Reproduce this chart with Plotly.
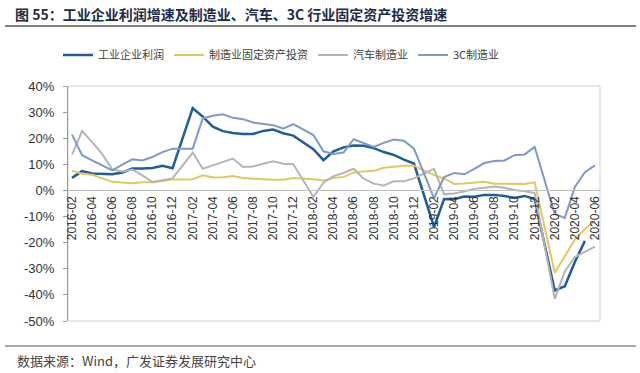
import plotly.graph_objects as go

months = []
for y in range(2016, 2021):
    for m in range(1, 13):
        if (y == 2016 and m < 2) or (y == 2020 and m > 6):
            continue
        months.append(f"{y}-{m:02d}")

tick_labels = months[::2]

profit = [4.8, 7.4, 6.5, 6.4, 6.2, 6.9, 8.4, 8.4, 8.6, 9.4, 8.5,
          None, 31.5, 28.3, 24.4, 22.7, 22.0, 21.6, 21.6, 22.8, 23.3, 21.9, 21.0,
          None, 15.8, 11.6, 15.0, 16.5, 17.2, 17.1, 16.2, 14.7, 13.6, 11.8, 10.3,
          None, -14.0, -3.3, -3.4, -2.3, -2.4, -1.7, -1.7, -2.1, -2.9, -2.1, -3.3,
          None, -38.3, -36.7, -27.4, -19.3, None]

mfg_fai = [7.5, 6.4, 6.0, 4.6, 3.3, 3.0, 2.8, 3.1, 3.1, 3.6, 4.2,
           None, 4.3, 5.8, 5.0, 5.1, 5.5, 4.8, 4.5, 4.2, 4.1, 4.1, 4.8,
           None, 4.3, 3.8, 4.8, 5.2, 6.8, 7.3, 7.5, 8.7, 9.1, 9.5, 9.5,
           None, 5.9, 4.6, 2.5, 2.7, 3.0, 3.3, 2.6, 2.5, 2.6, 2.5, 3.1,
           None, -31.5, -25.2, -18.8, -14.8, -11.7]

auto_fai = [13.7, 22.7, 18.5, 14.0, 8.0, 7.3, 8.0, 5.8, 3.2, 3.8, 4.6,
            None, 14.5, 8.3, 9.6, 10.8, 12.2, 9.0, 9.2, 10.2, 11.2, 10.2, 10.0,
            None, -2.5, 3.0, 5.5, 6.7, 8.3, 4.5, 2.6, 1.9, 3.5, 3.5, 4.6,
            None, 8.3, -1.5, -1.2, -0.4, 0.6, 1.0, 1.5, 1.0, 0.2, -0.3, -1.0,
            None, -41.5, -31.0, -25.5, -23.5, -21.5]

c3_fai = [21.4, 13.5, 11.5, 9.6, 7.7, 9.9, 11.9, 11.5, 12.8, 14.7, 16.0,
          None, 16.0, 27.6, 28.6, 29.2, 27.8, 27.3, 26.0, 25.6, 25.0, 23.7, 25.4,
          None, 21.2, 15.0, 14.0, 14.5, 19.6, 18.0, 16.7, 18.2, 19.5, 19.0, 16.0,
          None, -3.0, 5.1, 6.7, 6.2, 8.3, 10.5, 11.3, 11.5, 13.5, 13.8, 16.7,
          None, -9.0, -10.5, 1.3, 7.0, 9.6]

names = ["工业企业利润", "制造业固定资产投资", "汽车制造业", "3C制造业"]
series = [profit, mfg_fai, auto_fai, c3_fai]
colors = ["#1f5e9c", "#e3c75e", "#b5b5b5", "#7d9acb"]
widths = [2.5, 2, 2, 2]

fig = go.Figure()
for n, s, c, w in zip(names, series, colors, widths):
    fig.add_trace(go.Scatter(x=months, y=s, name=n, mode="lines",
                             connectgaps=True, line=dict(color=c, width=w)))

L, T, R, B = 68, 86, 40, 52
W, H = 640, 373
pw, ph = W - L - R, H - T - B
def px(xp):
    return (xp - L) / pw
def py(yp):
    return (H - B - yp) / ph

fig.update_layout(
    width=W, height=H,
    margin=dict(l=L, r=R, t=T, b=B, autoexpand=False),
    paper_bgcolor="white", plot_bgcolor="white",
    font=dict(family="Liberation Sans, Arial, sans-serif", size=12, color="#333333"),
    showlegend=True,
    legend=dict(orientation="h", x=px(58), y=py(55), xanchor="left", yanchor="middle",
                font=dict(family="Noto Sans CJK SC", size=11, color="#404040"),
                itemwidth=30, bgcolor="rgba(0,0,0,0)"),
    xaxis=dict(type="category", range=[-0.4, 52.5], anchor="free",
               position=50 / 90, showline=True, linecolor="#c0c0c0", linewidth=1,
               tickmode="array", tickvals=tick_labels, ticktext=tick_labels,
               tickangle=-90, ticks="", showgrid=False, zeroline=False,
               automargin=False,
               tickfont=dict(family="Liberation Sans, Arial", size=12, color="#333333")),
    yaxis=dict(range=[-50, 40], tickvals=list(range(-50, 41, 10)),
               ticktext=[f"{v}%" for v in range(-50, 41, 10)],
               showline=True, linecolor="#999999", linewidth=1,
               ticks="outside", ticklen=4, tickcolor="#999999",
               showgrid=False, zeroline=False, ticklabelstandoff=6,
               automargin=False,
               tickfont=dict(family="Liberation Sans, Arial", size=13, color="#333333")),
)

# plot frame
fig.add_shape(type="rect", xref="paper", yref="paper", x0=0, x1=1, y0=0, y1=1,
              line=dict(color="#d0d0d0", width=1), layer="below")
# title rule and footer rule
fig.add_shape(type="line", xref="paper", yref="paper", x0=px(5), x1=px(636),
              y0=py(26), y1=py(26), line=dict(color="#555555", width=1.5))
fig.add_shape(type="line", xref="paper", yref="paper", x0=px(5), x1=px(636),
              y0=py(346), y1=py(346), line=dict(color="#555555", width=1.2))

fig.add_annotation(text="<b>图 55：工业企业利润增速及制造业、汽车、3C 行业固定资产投资增速</b>",
                   xref="paper", yref="paper", x=px(13), y=py(14),
                   xanchor="left", yanchor="middle", showarrow=False,
                   font=dict(family="Noto Sans CJK SC", size=14, color="#1c2b4a"))
fig.add_annotation(text="数据来源：Wind，广发证券发展研究中心",
                   xref="paper", yref="paper", x=px(15), y=py(360),
                   xanchor="left", yanchor="middle", showarrow=False,
                   font=dict(family="Noto Sans CJK SC", size=13, color="#444444"))

fig.write_html("out.html", post_script="document.body.style.margin='0';",
               config={"displayModeBar": False})
